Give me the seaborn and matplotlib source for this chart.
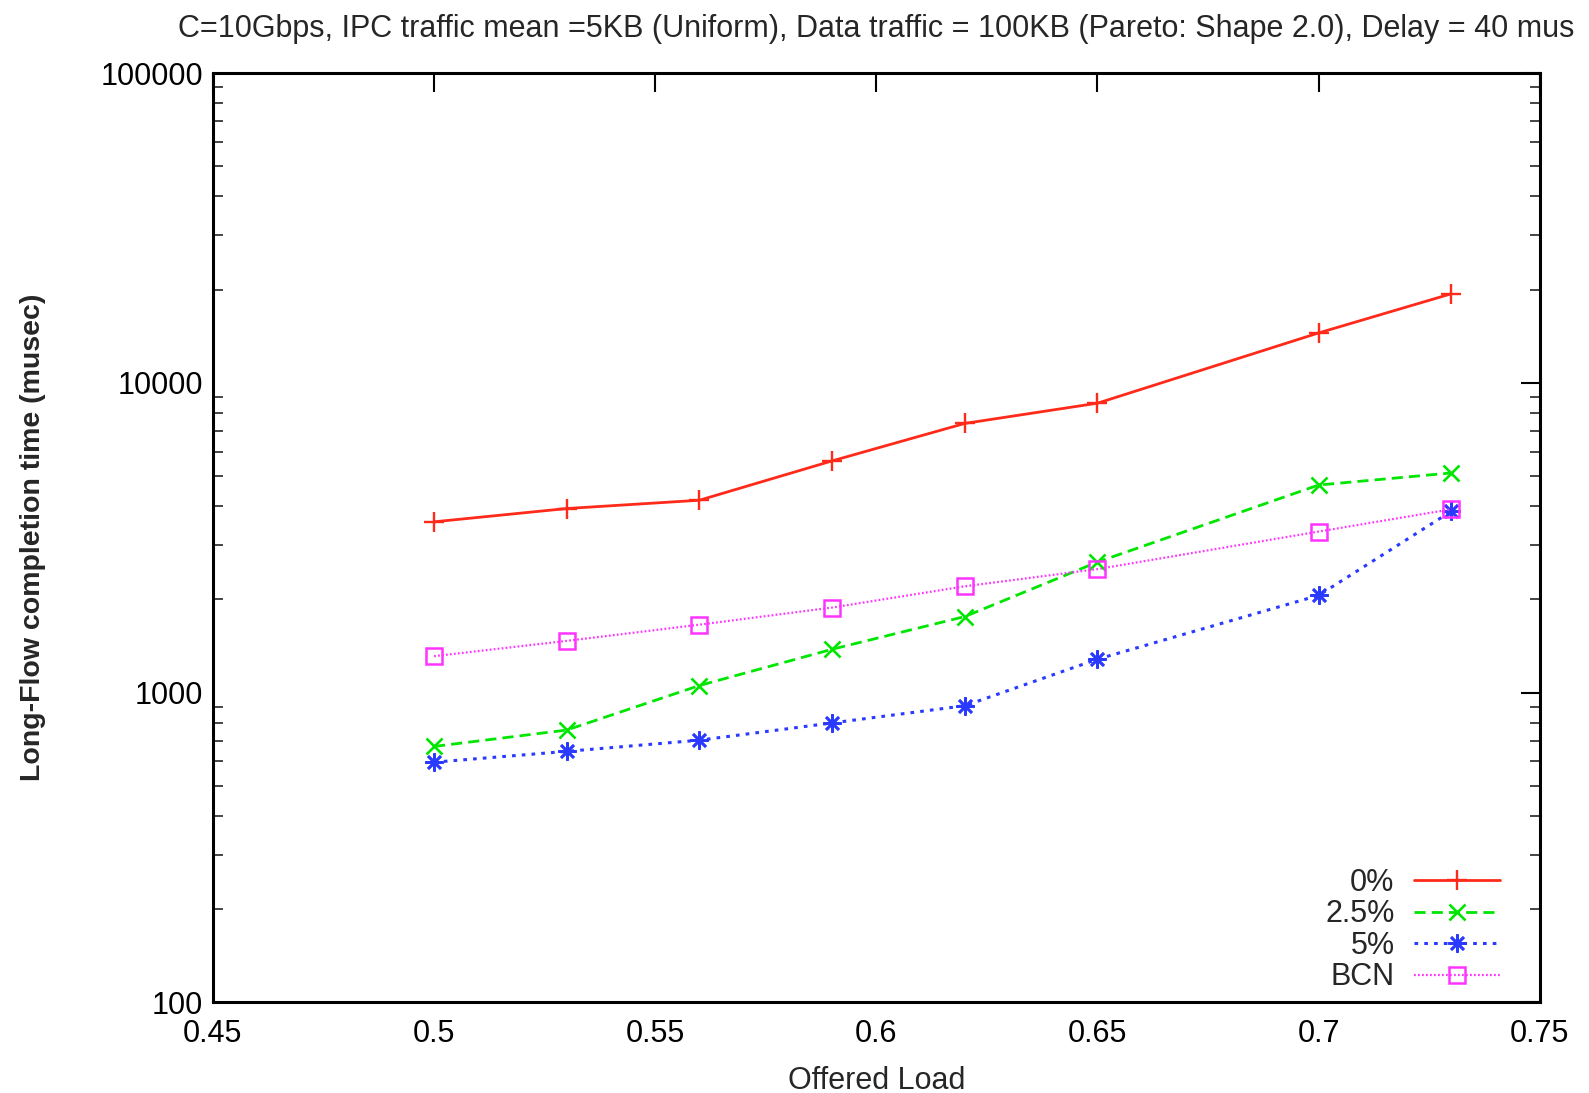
import pandas as pd
import matplotlib
matplotlib.use("Agg")
import matplotlib.pyplot as plt
from matplotlib.ticker import FixedLocator, LogLocator, NullFormatter
import seaborn as sns

# dados
carga = [0.5, 0.53, 0.56, 0.59, 0.62, 0.65, 0.7, 0.73]
tempo_0 = [3560, 3930, 4180, 5600, 7400, 8600, 14500, 19400]
tempo_25 = [670, 757, 1054, 1380, 1760, 2640, 4680, 5120]
tempo_5 = [596, 646, 702, 798, 907, 1282, 2060, 3850]
tempo_bcn = [1311, 1469, 1657, 1882, 2204, 2505, 3311, 3909]

series = ['0%', '2.5%', '5%', 'BCN']
valores = [tempo_0, tempo_25, tempo_5, tempo_bcn]

xticks = [0.45, 0.5, 0.55, 0.6, 0.65, 0.7, 0.75]
xtick_labels = ['0.45', '0.5', '0.55', '0.6', '0.65', '0.7', '0.75']
yticks = [100, 1000, 10000, 100000]
ytick_labels = ['100', '1000', '10000', '100000']

df = pd.DataFrame({
    'carga': carga * len(series),
    'tempo': sum(valores, []),
    'serie': [s for s in series for _ in carga],
})

sns.set_theme(style="white")
plt.rcParams['font.family'] = ['Liberation Sans', 'DejaVu Sans']

estilos = {
    '0%': dict(color='#ff2a1a', marker='+', dashes=(None, None), lw=2.0, ms=14, mew=1.7),
    '2.5%': dict(color='#00e600', marker='x', dashes=(4, 2.2), lw=2.0, ms=11, mew=1.9),
    '5%': dict(color='#2a3aff', marker=(8, 2, 0), dashes=(1.2, 2.0), lw=2.2, ms=13, mew=1.9),
    'BCN': dict(color='#ff33ff', marker='s', dashes=(0.8, 1.0), lw=1.6, ms=11, mew=1.8),
}

fig = plt.figure(figsize=(15.89, 10.93), dpi=100)
ax = fig.add_axes([0.134, 0.083, 0.835, 0.850])

for s in series:
    e = estilos[s]
    kw = dict(color=e['color'], marker=e['marker'], linewidth=e['lw'],
              markersize=e['ms'], markeredgewidth=e['mew'],
              markerfacecolor='none', markeredgecolor=e['color'])
    if e['dashes'][0] is not None:
        kw['dashes'] = e['dashes']
    sns.lineplot(data=df[df['serie'] == s], x='carga', y='tempo', ax=ax,
                 label=s, **kw)

ax.set_yscale('log')
ax.set_xlim(0.45, 0.75)
ax.set_ylim(100, 100000)

ax.xaxis.set_major_locator(FixedLocator(xticks))
ax.set_xticklabels(xtick_labels)
ax.yaxis.set_major_locator(FixedLocator(yticks))
ax.set_yticklabels(ytick_labels)
ax.yaxis.set_minor_locator(LogLocator(base=10, subs=range(2, 10)))
ax.yaxis.set_minor_formatter(NullFormatter())

ax.tick_params(axis='both', which='major', direction='in', length=14, width=1.5,
               top=True, right=True, labelsize=22, colors='black')
ax.tick_params(axis='x', which='major', pad=12)
ax.tick_params(axis='y', which='major', pad=7)
ax.tick_params(axis='y', which='minor', direction='in', length=7, width=1.2,
               left=True, right=True)
for sp in ax.spines.values():
    sp.set_linewidth(2.2)
    sp.set_color('black')

ax.set_xlabel('Offered Load', fontsize=22, labelpad=12)
ax.set_ylabel('Long-Flow completion time (musec)', fontsize=20.5, fontweight='bold', labelpad=39)
ax.set_title('C=10Gbps, IPC traffic mean =5KB (Uniform), Data traffic = 100KB (Pareto: Shape 2.0), Delay = 40 mus',
             fontsize=22, pad=26)

ax.legend(loc='lower right', bbox_to_anchor=(1.0, -0.032), frameon=False, markerfirst=False,
          handlelength=2.8, fontsize=22, labelspacing=0.05, borderaxespad=0.9, handletextpad=0.65)

fig.savefig('out.png', dpi=100)
